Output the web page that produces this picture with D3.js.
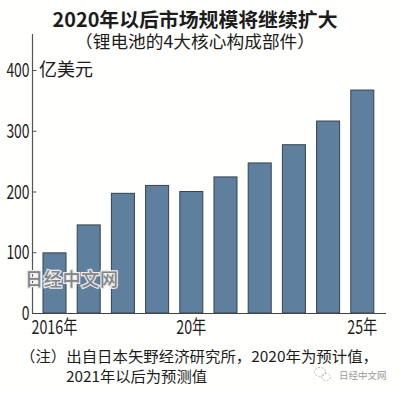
<!DOCTYPE html>
<html>
<head>
<meta charset="utf-8">
<script src="https://cdn.jsdelivr.net/npm/d3@7"></script>
<style>
    html, body { margin: 0; padding: 0; background: #fffffd; }
    svg { display: block; }
    text { font-family: "Noto Sans CJK SC", sans-serif; fill: #1c1c1c; }
</style>
</head>
<body>
<div id="chart"></div>
<script>
// Values (100 million USD)
var years = ["2016", "2017", "2018", "2019", "2020", "2021", "2022", "2023", "2024", "2025"];
var values = [99, 145, 197, 210, 200, 224, 247, 277, 316, 367];
var yTicks = [0, 100, 200, 300, 400];
var xLabels = { "2016": "2016年", "2020": "20年", "2025": "25年" };

var titleText = "2020年以后市场规模将继续扩大";
var subtitleText = "（锂电池的4大核心构成部件）";
var unitText = "亿美元";
var noteLines = ["（注）出自日本矢野经济研究所，2020年为预计值，", "2021年以后为预测值"];
var watermark = "日经中文网";

function init() {
    var w = 400;
    var h = 393;

    var svg = d3.select("#chart")
        .append("svg")
        .attr("width", w)
        .attr("height", h);

    var x = d3.scaleBand()
        .domain(years)
        .range([37.4, 379.4])
        .paddingInner(0.327)
        .paddingOuter(0.1635);

    var y = d3.scaleLinear()
        .domain([0, 400])
        .range([313, 70]);

    // Bars
    svg.selectAll("rect.bar")
        .data(values)
        .enter()
        .append("rect")
        .attr("class", "bar")
        .attr("x", (d, i) => x(years[i]))
        .attr("y", d => y(d))
        .attr("width", x.bandwidth())
        .attr("height", d => y(0) - y(d))
        .style("fill", "#5e7f9e")
        .style("stroke", "#36424d")
        .style("stroke-width", 1);

    // Y axis, labels squeezed to the narrow digits of the original
    var yAxis = svg.append("g")
        .attr("transform", "translate(32.5,0)")
        .call(d3.axisRight(y).tickValues(yTicks.slice(1)).tickSize(4).tickFormat(""));
    yAxis.select(".domain").remove();
    yAxis.selectAll("line").style("stroke", "#555");

    svg.selectAll("text.ylab")
        .data(yTicks)
        .enter()
        .append("text")
        .attr("class", "ylab")
        .attr("x", 29.5)
        .attr("y", d => y(d) + 7)
        .attr("text-anchor", "end")
        .style("font-size", "19px")
        .attr("textLength", d => String(d).length * 7.7)
        .attr("lengthAdjust", "spacingAndGlyphs")
        .text(d => d);

    svg.append("line")
        .attr("x1", 32.5).attr("x2", 32.5)
        .attr("y1", 34).attr("y2", 313)
        .style("stroke", "#555").style("stroke-width", 1.2);
    svg.append("line")
        .attr("x1", 32).attr("x2", 386)
        .attr("y1", 313.5).attr("y2", 313.5)
        .style("stroke", "#444").style("stroke-width", 1.2);

    // X labels
    svg.selectAll("text.xlab")
        .data(years.filter(d => xLabels[d]))
        .enter()
        .append("text")
        .attr("class", "xlab")
        .attr("x", d => x(d) + x.bandwidth() / 2)
        .attr("y", 334)
        .attr("text-anchor", "middle")
        .style("font-size", "19px")
        .attr("textLength", d => d === "2016" ? 46 : 30)
        .attr("lengthAdjust", "spacingAndGlyphs")
        .text(d => xLabels[d]);

    // Title block
    svg.append("text")
        .attr("x", 195).attr("y", 27)
        .attr("text-anchor", "middle")
        .style("font-size", "19.5px")
        .style("font-weight", 700)
        .attr("textLength", 285)
        .attr("lengthAdjust", "spacingAndGlyphs")
        .text(titleText);
    svg.append("text")
        .attr("x", 195).attr("y", 48)
        .attr("text-anchor", "middle")
        .style("font-size", "17px")
        .attr("textLength", 240)
        .attr("lengthAdjust", "spacingAndGlyphs")
        .text(subtitleText);
    svg.append("text")
        .attr("x", 39).attr("y", 76)
        .style("font-size", "18px")
        .text(unitText);

    // Note
    svg.selectAll("text.note")
        .data(noteLines)
        .enter()
        .append("text")
        .attr("class", "note")
        .attr("x", (d, i) => i === 0 ? 20 : 66)
        .attr("y", (d, i) => 362 + i * 19.5)
        .style("font-size", "15px")
        .attr("textLength", (d, i) => i === 0 ? 358 : 141)
        .attr("lengthAdjust", "spacingAndGlyphs")
        .text(d => d);

    // Watermarks
    svg.append("text")
        .attr("x", 25).attr("y", 285.5)
        .style("font-size", "18px")
        .style("font-weight", 500)
        .style("fill", "#7f858b")
        .style("stroke", "#ecebe8")
        .style("stroke-width", 2.5)
        .style("paint-order", "stroke")
        .attr("textLength", 93)
        .text(watermark);
    svg.append("text")
        .attr("x", 339).attr("y", 379)
        .style("font-size", "9.5px")
        .style("fill", "#9a9a9a")
        .text(watermark);

    // Small chat icon in front of the lower watermark
    var icon = svg.append("g")
        .style("fill", "none")
        .style("stroke", "#b8b8b8")
        .style("stroke-dasharray", "2 1.5");
    icon.append("ellipse").attr("cx", 320).attr("cy", 372).attr("rx", 5.5).attr("ry", 4.5);
    icon.append("ellipse").attr("cx", 326).attr("cy", 377).attr("rx", 4.5).attr("ry", 3.5);
}

window.onload = init;
</script>
</body>
</html>
